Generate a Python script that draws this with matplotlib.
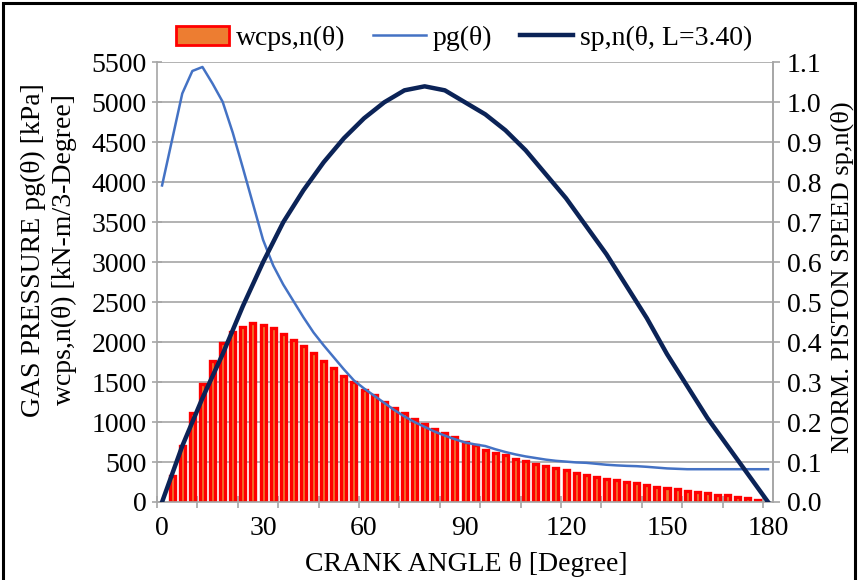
import matplotlib.pyplot as plt
from matplotlib.patches import Rectangle, Patch
from matplotlib.lines import Line2D
import numpy as np

plt.rcParams['font.family'] = ['Liberation Serif', 'DejaVu Serif']

# work per 3-degree step
bar_theta = list(range(3, 178, 3))
wcps = [324, 697, 1112, 1470, 1768, 1990, 2121, 2192, 2233, 2217,
        2175, 2100, 2026, 1953, 1860, 1768, 1673, 1582, 1499, 1407,
        1333, 1249, 1179, 1112, 1042, 980, 918, 863, 813, 751,
        710, 656, 614, 585, 544, 510, 473, 452, 419, 398,
        365, 340, 307, 290, 274, 253, 233, 212, 191, 178,
        158, 141, 121, 108, 90, 84, 66, 46, 25]

# gas pressure [kPa]
pg_theta = list(range(0, 181, 3))
pg = [3960, 4535, 5110, 5392, 5442, 5234, 5006, 4620, 4180, 3730,
      3280, 2960, 2720, 2515, 2310, 2120, 1960, 1810, 1660, 1520,
      1420, 1330, 1240, 1150, 1070, 1000, 940, 880, 830, 785,
      745, 720, 700, 660, 625, 595, 570, 550, 530, 515,
      505, 495, 490, 478, 466, 458, 452, 448, 440, 430,
      420, 415, 410, 410, 410, 410, 410, 410, 410, 410, 410]

# normalised piston speed
sp_theta = list(range(0, 181, 6))
sp = [0.00, 0.14, 0.26, 0.37, 0.49, 0.60, 0.70, 0.78, 0.85, 0.91,
      0.96, 1.00, 1.03, 1.04, 1.03, 1.00, 0.97, 0.93, 0.88, 0.82,
      0.76, 0.69, 0.62, 0.54, 0.46, 0.37, 0.29, 0.21, 0.14, 0.07, 0.00]

x_labels = [0, 30, 60, 90, 120, 150, 180]
left_ticks = list(range(0, 5501, 500))
right_ticks = [round(0.1 * i, 1) for i in range(12)]

grey = '#A6A6A6'
fs = 20

fig = plt.figure(figsize=(8.58, 5.80), dpi=100)
ax = fig.add_axes([0.183, 0.1345, 0.718, 0.758])
ax2 = ax.twinx()

ax.bar(bar_theta, wcps, width=1.5, color='#ED7D31', edgecolor='#FF0000',
       linewidth=2.4, zorder=2)
ax.plot(pg_theta, pg, color='#4472C4', lw=1.8, zorder=3)
ax2.plot(sp_theta, sp, color='#0B2357', lw=3.2)

ax.set_xlim(-1.5, 181.5)
ax.set_ylim(0, 5500)
ax2.set_ylim(0, 1.1)

ax.yaxis.grid(True, color=grey, lw=1.2, zorder=0)
ax.set_axisbelow(True)

for a in (ax, ax2):
    a.spines['top'].set_visible(False)
    for s in ('left', 'right', 'bottom'):
        a.spines[s].set_color(grey)
        a.spines[s].set_linewidth(1.2)
ax2.spines['left'].set_visible(False)
ax2.spines['bottom'].set_visible(False)

ax.set_xticks(x_labels)
ax.set_xticklabels([str(v) for v in x_labels])
ax.set_xticks(np.arange(-1.5, 180, 12), minor=True)
ax.tick_params(axis='x', which='major', length=0, pad=10, labelsize=fs)
ax.tick_params(axis='x', which='minor', direction='inout', length=8,
               color=grey, width=1.2)

ax.set_yticks(left_ticks)
ax.tick_params(axis='y', direction='inout', length=7, color=grey, width=1.2,
               labelsize=fs, pad=4)
ax2.set_yticks(right_ticks)
ax2.set_yticklabels(['%.1f' % v for v in right_ticks])
ax2.tick_params(axis='y', direction='out', length=5, color=grey, width=1.2,
                labelsize=fs, pad=5)

fig.text(0.543, 0.026, 'CRANK ANGLE θ [Degree]', ha='center', va='center',
         fontsize=fs)
fig.text(0.039, 0.569, 'GAS PRESSURE pg(θ) [kPa]', rotation=90,
         ha='center', va='center', fontsize=fs)
fig.text(0.075, 0.569, 'wcps,n(θ) [kN-m/3-Degree]', rotation=90,
         ha='center', va='center', fontsize=fs)
fig.text(0.982, 0.522, 'NORM. PISTON SPEED sp,n(θ)', rotation=90,
         ha='center', va='center', fontsize=19)

handles = [Patch(facecolor='#ED7D31', edgecolor='#FF0000', linewidth=2),
           Line2D([], [], color='#4472C4', lw=1.8),
           Line2D([], [], color='#0B2357', lw=3.2)]
fig.legend(handles, ['wcps,n(θ)', 'pg(θ)', 'sp,n(θ, L=3.40)'],
           loc='center', bbox_to_anchor=(0.541, 0.934), ncol=3, frameon=False,
           fontsize=fs, handlelength=1.9, handletextpad=0.25,
           columnspacing=1.0)

fig.patches.append(Rectangle((0.0035, -0.1), 0.993, 1.095,
                             transform=fig.transFigure, fill=False,
                             edgecolor='black', lw=2.2))

fig.savefig('out.png', dpi=100)
